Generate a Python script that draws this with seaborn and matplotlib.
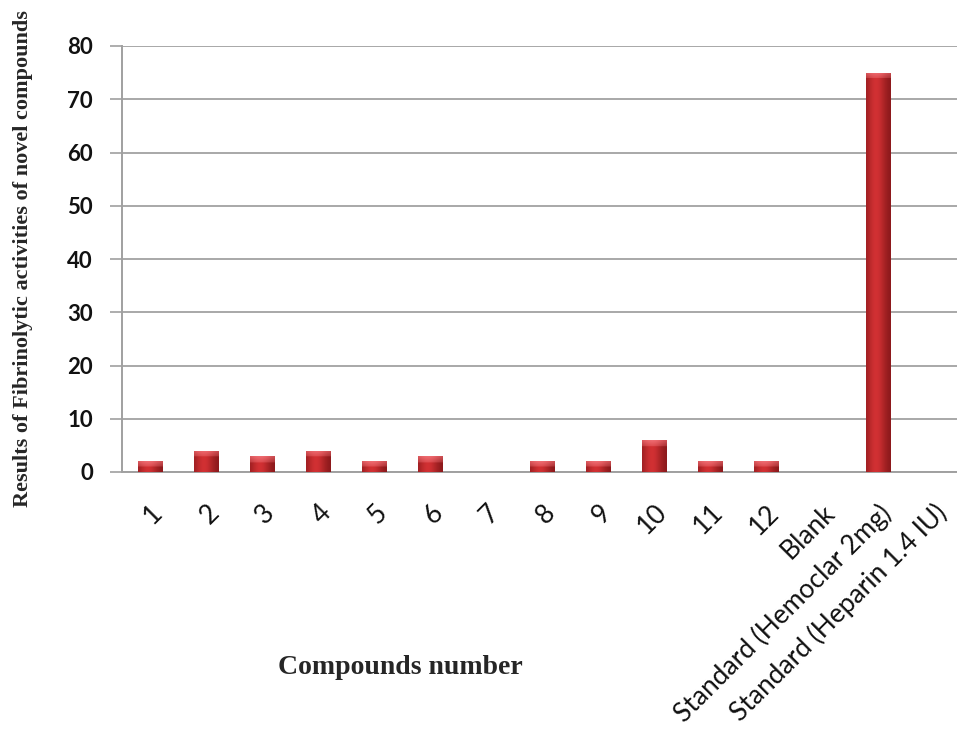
import numpy as np
import pandas as pd
import matplotlib
matplotlib.use("Agg")
import matplotlib.pyplot as plt
import matplotlib.transforms as mtransforms
import seaborn as sns

# Fibrinolytic activity per compound
compounds = ["1", "2", "3", "4", "5", "6", "7", "8", "9", "10", "11", "12",
             "Blank", "Standard (Hemoclar 2mg)", "Standard (Heparin 1.4 IU)"]
activity = [2, 4, 3, 4, 2, 3, 0, 2, 2, 6, 2, 2, 0, 75, 0]
y_ticks = [0, 10, 20, 30, 40, 50, 60, 70, 80]

df = pd.DataFrame({"compound": compounds, "activity": activity})

sns.set_style("white")
plt.rcParams["font.family"] = ["Lato", "DejaVu Sans"]

fig = plt.figure(figsize=(9.57, 7.31), dpi=100)
ax = fig.add_axes([122 / 957, 259 / 731, 840 / 957, 426 / 731])

sns.barplot(data=df, x="compound", y="activity", order=compounds,
            color="#B8262A", width=0.43, edgecolor="#6E1214", linewidth=0.7,
            saturation=1, ax=ax, zorder=3)

# cylinder-like shading on each bar
dark = np.array([0.52, 0.09, 0.10])
mid = np.array([0.82, 0.19, 0.20])
light = np.array([0.93, 0.42, 0.44])
px_per_unit = 426 / 80
for patch in ax.patches:
    h = patch.get_height()
    if h <= 0:
        continue
    x0 = patch.get_x()
    w = patch.get_width()
    nx, ny = 40, max(int(h * px_per_unit), 2)
    t = np.linspace(0, 1, nx)
    prof = np.exp(-((t - 0.4) / 0.4) ** 2)
    row = dark[None, :] + (mid - dark)[None, :] * prof[:, None]
    img = np.repeat(row[None, :, :], ny, axis=0)
    cap = min(6, ny // 2)
    for k in range(cap):
        f = 1 - k / cap * 0.6
        img[k] = img[k] + (light - img[k]) * f * (0.6 + 0.4 * prof[:, None])
    im = ax.imshow(np.clip(img, 0, 1), extent=[x0, x0 + w, 0, h],
                   aspect="auto", origin="upper", zorder=4,
                   interpolation="bilinear")
    im.set_clip_path(patch)

ax.set_xlim(-0.5, len(compounds) - 0.5)
ax.set_ylim(0, 80)
ax.set_yticks(y_ticks)
ax.set_yticklabels([str(v) for v in y_ticks], fontsize=16, fontweight="bold",
                   color="#111111")
ax.yaxis.grid(True, color="#A8A8A8", linewidth=1.4, zorder=0)
ax.set_axisbelow(True)

# category labels, with boundary ticks between categories
ax.set_xticks(np.arange(len(compounds)))
ax.set_xticklabels(compounds, rotation=45, ha="right", va="top",
                   rotation_mode="anchor", fontsize=19, color="#111111")
shift = mtransforms.ScaledTranslation(3 / 100, 0, fig.dpi_scale_trans)
for lab in ax.get_xticklabels():
    lab.set_transform(lab.get_transform() + shift)
ax.set_xticks(np.arange(len(compounds) + 1) - 0.5, minor=True)
ax.tick_params(axis="x", which="major", length=0, pad=20)
ax.tick_params(axis="x", which="minor", length=9, width=1.2, color="#A0A0A0",
               direction="out")
ax.tick_params(axis="y", length=9, width=1.2, color="#A0A0A0", pad=12,
               left=True)

for side in ["top", "right"]:
    ax.spines[side].set_visible(False)
for side in ["left", "bottom"]:
    ax.spines[side].set_color("#A0A0A0")
    ax.spines[side].set_linewidth(1.4)

ax.set_xlabel("")
ax.set_ylabel("")
fig.text(400 / 957, 1 - 668 / 731, "Compounds number",
         family="Liberation Serif", fontweight="bold", fontsize=20,
         ha="center", va="center")
fig.text(23 / 957, 1 - 259 / 731,
         "Results of Fibrinolytic activities of novel compounds",
         family="Liberation Serif", fontweight="bold", fontsize=16,
         rotation=90, ha="center", va="center")

fig.savefig("out.png", dpi=100)
